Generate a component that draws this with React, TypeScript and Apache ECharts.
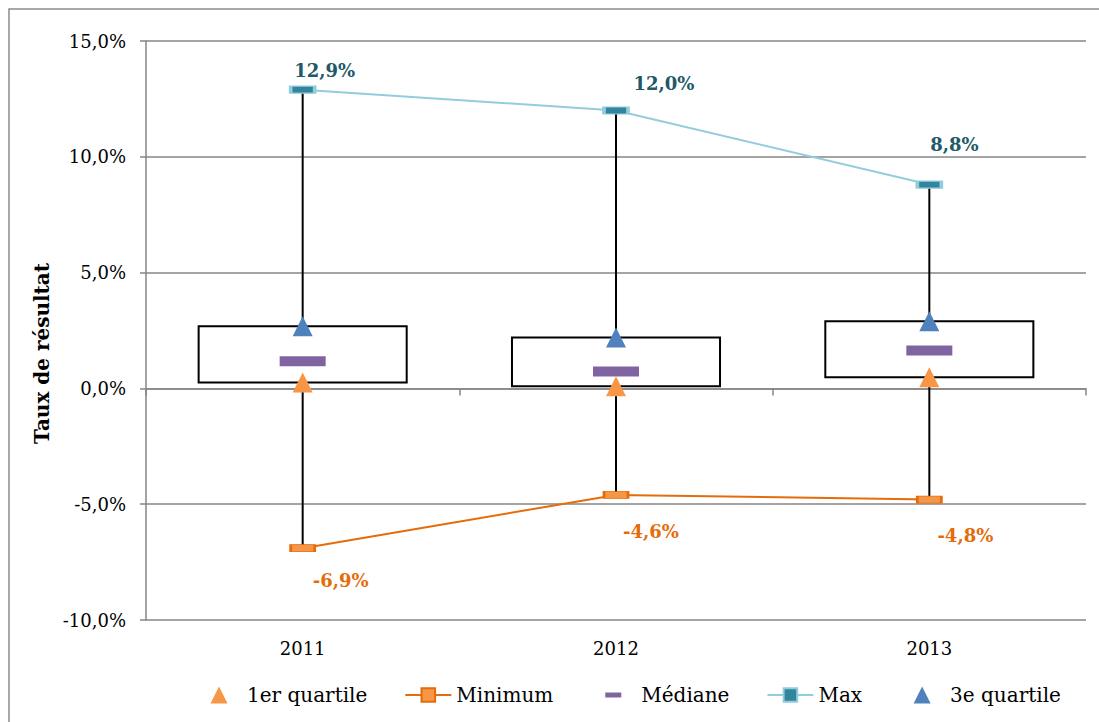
import React, { useEffect, useRef } from "react";
import * as echarts from "echarts";

const categories = ["2011", "2012", "2013"];
const minimum = [-6.9, -4.6, -4.8];
const q1 = [0.26, 0.09, 0.48];
const median = [1.17, 0.73, 1.64];
const q3 = [2.68, 2.2, 2.9];
const maximum = [12.9, 12.0, 8.8];
const yTicks = { min: -10, max: 15, interval: 5 };

const maxLabelOffsets = [[22, -19], [48, -27], [25, -40]];
const minLabelOffsets = [[38, 32], [35, 37], [36, 36]];

const fmt = (v: number) => v.toFixed(1).replace(".", ",") + "%";

const triIcon = "path://M0,0M46,17M14.5,17L23,0L31.5,17Z";
const medIcon = "path://M0,0M46,17M15,6H31V11H15Z";

export default function App() {
  const ref = useRef<HTMLDivElement>(null);
  useEffect(() => {
    const chart = echarts.init(ref.current!, undefined, { renderer: "svg" });
    const serif = "DejaVu Serif";
    const option: any = {
      animation: false,
      backgroundColor: "#ffffff",
      graphic: [
        {
          type: "rect",
          shape: { x: 9, y: 9, width: 1100, height: 730 },
          style: { fill: "none", stroke: "#8c8c8c", lineWidth: 1.5 },
          silent: true,
        },
      ],
      grid: { left: 146, right: 13, top: 41, bottom: 102 },
      legend: {
        left: 191,
        top: 680,
        itemWidth: 46,
        itemHeight: 17,
        itemGap: 37,
        textStyle: { fontFamily: serif, fontSize: 20, color: "#000" },
        data: [
          { name: "1er quartile", icon: triIcon },
          { name: "Minimum" },
          { name: "Médiane", icon: medIcon },
          { name: "Max" },
          { name: "3e quartile", icon: triIcon },
        ],
      },
      xAxis: [
        {
          type: "category",
          data: categories,
          position: "bottom",
          axisLine: { show: false, onZero: false },
          axisTick: { show: false },
          axisLabel: { fontFamily: serif, fontSize: 18, color: "#000", margin: 19 },
        },
        {
          type: "category",
          data: categories,
          position: "bottom",
          axisLine: {
            show: true,
            onZero: true,
            onZeroAxisIndex: 0,
            lineStyle: { color: "#868686", width: 1.5 },
          },
          axisTick: { show: true, length: 7, interval: 0, lineStyle: { color: "#868686", width: 1.5 } },
          axisLabel: { show: false },
        },
      ],
      yAxis: {
        type: "value",
        min: yTicks.min,
        max: yTicks.max,
        interval: yTicks.interval,
        name: "Taux de résultat",
        nameLocation: "middle",
        nameRotate: 90,
        nameGap: 92,
        nameTextStyle: {
          fontFamily: serif,
          fontSize: 20,
          fontWeight: "bold",
          color: "#000",
          padding: [0, 46, 0, 0],
        },
        axisLine: { show: true, lineStyle: { color: "#868686", width: 1.5 } },
        axisTick: { show: true, length: 6, lineStyle: { color: "#868686", width: 1.5 } },
        splitLine: { show: true, lineStyle: { color: "#868686", width: 1.5 } },
        axisLabel: {
          fontFamily: serif,
          fontSize: 18,
          color: "#000",
          margin: 20,
          formatter: (v: number) => fmt(v),
        },
      },
      series: [
        {
          type: "custom",
          name: "box",
          xAxisIndex: 0,
          encode: { x: 0, y: [1, 2, 3, 4] },
          data: categories.map((_, i) => [i, minimum[i], q1[i], q3[i], maximum[i]]),
          renderItem: (params: any, api: any) => {
            const x = api.value(0);
            const pMin = api.coord([x, api.value(1)]);
            const pQ1 = api.coord([x, api.value(2)]);
            const pQ3 = api.coord([x, api.value(3)]);
            const pMax = api.coord([x, api.value(4)]);
            const band = api.size([1, 0])[0];
            const w = band * 0.664;
            return {
              type: "group",
              children: [
                {
                  type: "line",
                  shape: { x1: pMax[0], y1: pMax[1], x2: pQ3[0], y2: pQ3[1] },
                  style: { stroke: "#000", lineWidth: 2 },
                },
                {
                  type: "line",
                  shape: { x1: pQ1[0], y1: pQ1[1], x2: pMin[0], y2: pMin[1] },
                  style: { stroke: "#000", lineWidth: 2 },
                },
                {
                  type: "rect",
                  shape: { x: pQ3[0] - w / 2, y: pQ3[1], width: w, height: pQ1[1] - pQ3[1] },
                  style: { fill: "#ffffff", stroke: "#000", lineWidth: 2 },
                },
              ],
            };
          },
        },
        {
          type: "line",
          name: "Minimum",
          data: minimum.map((v, i) => ({
            value: v,
            label: { offset: minLabelOffsets[i] },
          })),
          symbol: "rect",
          symbolSize: [24, 7],
          itemStyle: { color: "#F79646", borderColor: "#E46C0A", borderWidth: 1.5 },
          lineStyle: { color: "#E46C0A", width: 2 },
          label: {
            show: true,
            position: "inside",
            formatter: (p: any) => fmt(p.value),
            fontFamily: serif,
            fontSize: 18,
            fontWeight: "bold",
            color: "#E46C0A",
          },
        },
        {
          type: "line",
          name: "Max",
          data: maximum.map((v, i) => ({
            value: v,
            label: { offset: maxLabelOffsets[i] },
          })),
          symbol: "rect",
          symbolSize: [24, 7],
          itemStyle: { color: "#31859C", borderColor: "#93CDDD", borderWidth: 2 },
          lineStyle: { color: "#93CDDD", width: 2 },
          label: {
            show: true,
            position: "inside",
            formatter: (p: any) => fmt(p.value),
            fontFamily: serif,
            fontSize: 18,
            fontWeight: "bold",
            color: "#215968",
          },
        },
        {
          type: "scatter",
          name: "Médiane",
          data: median,
          symbol: "rect",
          symbolSize: [46, 10],
          itemStyle: { color: "#8064A2", opacity: 1 },
        },
        {
          type: "scatter",
          name: "1er quartile",
          data: q1,
          symbol: "triangle",
          symbolSize: [20, 20],
          itemStyle: { color: "#F79646", opacity: 1 },
        },
        {
          type: "scatter",
          name: "3e quartile",
          data: q3,
          symbol: "triangle",
          symbolSize: [20, 20],
          itemStyle: { color: "#4F81BD", opacity: 1 },
        },
      ],
    };
    chart.setOption(option);
    return () => chart.dispose();
  }, []);
  return (
    <div
      ref={ref}
      style={{ position: "absolute", left: 0, top: 0, width: 1099, height: 722 }}
    />
  );
}
